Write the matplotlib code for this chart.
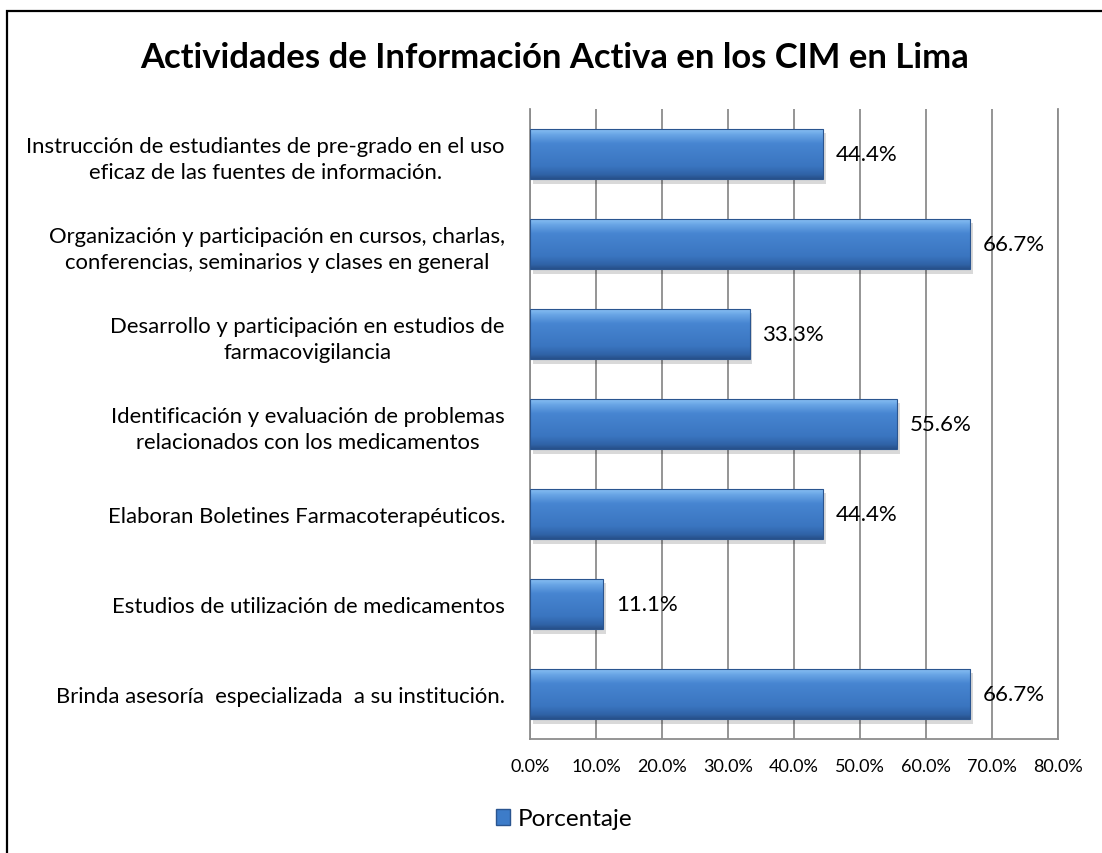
import matplotlib
matplotlib.use("Agg")
import matplotlib.pyplot as plt
import numpy as np
from matplotlib.patches import Rectangle, Patch
from matplotlib.colors import LinearSegmentedColormap

plt.rcParams['font.family'] = ['Lato', 'DejaVu Sans']

title = "Actividades de Información Activa en los CIM en Lima"
categories = [
    "Instrucción de estudiantes de pre-grado en el uso\neficaz de las fuentes de información.",
    "Organización y participación en cursos, charlas,\nconferencias, seminarios y clases en general",
    "Desarrollo y participación en estudios de\nfarmacovigilancia",
    "Identificación y evaluación de problemas\nrelacionados con los medicamentos",
    "Elaboran Boletines Farmacoterapéuticos.",
    "Estudios de utilización de medicamentos",
    "Brinda asesoría  especializada  a su institución.",
]
values = [0.444, 0.667, 0.333, 0.556, 0.444, 0.111, 0.667]
xticks = [0.0, 0.1, 0.2, 0.3, 0.4, 0.5, 0.6, 0.7, 0.8]
legend_label = "Porcentaje"

W, H = 1102, 854
fig = plt.figure(figsize=(W / 100, H / 100), dpi=100)
fig.patch.set_facecolor('white')

# outer chart border (extends past right and bottom edges)
border = Rectangle((7 / W, -0.2), 2.0, (1 - 12 / H) + 0.2, transform=fig.transFigure,
                   fill=False, edgecolor='black', linewidth=1.6)
fig.patches.append(border)

ax = fig.add_axes([530 / W, 1 - 740 / H, (1058 - 530) / W, (740 - 110) / H])
grid_c = '#8c8c8c'
for s in ['left', 'bottom', 'right']:
    ax.spines[s].set_color(grid_c)
    ax.spines[s].set_linewidth(1.3)
ax.spines['top'].set_visible(False)

n = len(categories)
ypos = np.arange(n)
bh = 0.56
ax.set_xlim(0, 0.8)
ax.set_ylim(n - 0.5, -0.5)
ax.set_xticks(xticks)
ax.set_xticklabels([f"{t*100:.1f}%" for t in xticks], fontsize=13)
ax.set_yticks(ypos)
ax.set_yticklabels(categories, fontsize=15.9, ha='right', multialignment='center', linespacing=1.4)
ax.tick_params(axis='both', length=0)
ax.tick_params(axis='y', pad=18)
ax.tick_params(axis='x', pad=14)
ax.xaxis.grid(True, color=grid_c, linewidth=1.3)
ax.set_axisbelow(True)

cmap = LinearSegmentedColormap.from_list('bar', [
    (0.0, '#8cc3f5'), (0.12, '#6aa6e6'), (0.3, '#4785d1'),
    (0.75, '#3a75c0'), (0.92, '#2f62a6'), (1.0, '#27508a')])
grad = np.linspace(0, 1, 100).reshape(-1, 1)

for y, v in zip(ypos, values):
    # shadow
    sh = Rectangle((0.004, y - bh / 2 + 0.05), v, bh, facecolor='#000000', alpha=0.15,
                   edgecolor='none', zorder=2)
    ax.add_patch(sh)
    rect = Rectangle((0, y - bh / 2), v, bh, facecolor='none', edgecolor='#2a5590',
                     linewidth=0.8, zorder=4)
    ax.add_patch(rect)
    im = ax.imshow(grad, cmap=cmap, aspect='auto', extent=(0, v, y + bh / 2, y - bh / 2),
                   zorder=3, interpolation='bilinear')
    im.set_clip_path(rect)
    ax.text(v + 0.019, y, f"{v*100:.1f}%", va='center', ha='left', fontsize=16, zorder=5)

fig.text(0.5 * (7 / W + 1), 1 - 58 / H, title, ha='center', va='center',
         fontsize=24.9, fontweight='bold')

handle = Patch(facecolor='#3d7cc9', edgecolor='#2a5590')
fig.legend([handle], [legend_label], loc='center', bbox_to_anchor=(564 / W, 1 - 820 / H),
           frameon=False, fontsize=17.5, handlelength=0.6, handleheight=0.6, handletextpad=0.3)

fig.savefig('out.png', dpi=100)
